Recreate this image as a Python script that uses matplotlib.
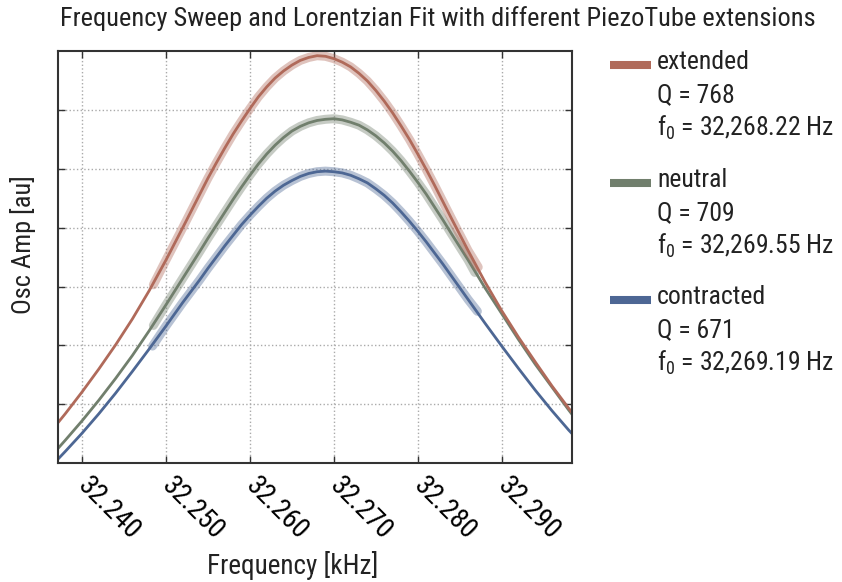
import os
import matplotlib
matplotlib.use("Agg")
import matplotlib.pyplot as plt
from matplotlib import font_manager as fm
from matplotlib.lines import Line2D

# look for a narrow / condensed sans face, the reference uses one
pick = None
for pat in ['LiberationSansNarrow-Regular', 'RobotoCondensed-Regular', 'Roboto_Condensed-Regular',
            'NotoSans-Condensed.', 'DejaVuSansCondensed.', 'OpenSans_Condensed-Regular',
            'OpenSans-CondensedRegular']:
    for f in fm.fontManager.ttflist:
        if pat in os.path.basename(f.fname):
            pick = f
            break
    if pick:
        break
if pick is None:
    for f in fm.fontManager.ttflist:
        if 'condensed' in str(f.stretch) and f.weight in (400, 'normal', 'regular') and f.style == 'normal':
            pick = f
            break
if pick is not None:
    plt.rcParams['font.family'] = [pick.name, 'DejaVu Sans']
    plt.rcParams['font.stretch'] = pick.stretch
else:
    plt.rcParams['font.family'] = ['Roboto', 'DejaVu Sans']
plt.rcParams['mathtext.default'] = 'regular'

# sweep frequencies [kHz] and values (arbitrary units)
freq = [32.236, 32.238, 32.240, 32.242, 32.244, 32.246, 32.248, 32.250, 32.252, 32.254,
        32.255, 32.256, 32.257, 32.258, 32.259, 32.260, 32.261, 32.262, 32.263, 32.264,
        32.265, 32.266, 32.267, 32.268, 32.269, 32.270, 32.271, 32.272, 32.273, 32.274,
        32.275, 32.276, 32.277, 32.278, 32.279, 32.280, 32.281, 32.282, 32.283,
        32.284, 32.286, 32.288, 32.290, 32.292, 32.294, 32.296, 32.298, 32.300]

extended = [0.49, 0.84, 1.21, 1.60, 2.01, 2.45, 2.93, 3.45, 4.00, 4.56,
            4.84, 5.10, 5.35, 5.59, 5.81, 6.02, 6.22, 6.39, 6.54, 6.66,
            6.76, 6.84, 6.89, 6.92, 6.91, 6.87, 6.81, 6.73, 6.62, 6.49,
            6.33, 6.15, 5.95, 5.73, 5.50, 5.25, 4.99, 4.72, 4.44,
            4.16, 3.61, 3.08, 2.59, 2.14, 1.72, 1.31, 0.93, 0.57]
neutral = [0.07, 0.39, 0.72, 1.07, 1.44, 1.83, 2.25, 2.69, 3.14, 3.59,
           3.82, 4.04, 4.26, 4.48, 4.69, 4.89, 5.08, 5.25, 5.40, 5.53,
           5.64, 5.72, 5.78, 5.82, 5.84, 5.85, 5.83, 5.79, 5.74, 5.66,
           5.56, 5.44, 5.30, 5.14, 4.96, 4.77, 4.57, 4.35, 4.13,
           3.90, 3.45, 2.98, 2.54, 2.10, 1.68, 1.29, 0.90, 0.53]
contracted = [-0.10, 0.20, 0.51, 0.84, 1.19, 1.56, 1.94, 2.33, 2.73, 3.11,
              3.31, 3.50, 3.69, 3.87, 4.05, 4.21, 4.36, 4.50, 4.62, 4.72,
              4.80, 4.87, 4.92, 4.95, 4.96, 4.95, 4.93, 4.89, 4.83, 4.76,
              4.66, 4.55, 4.42, 4.27, 4.11, 3.94, 3.76, 3.57, 3.38,
              3.18, 2.78, 2.38, 1.99, 1.61, 1.24, 0.89, 0.56, 0.26]

# measured sweep range (start/end freq and value) per series
sweep_start = [32.2485, 32.2485, 32.2484]
sweep_end = [32.2872, 32.2868, 32.2871]
sweep_start_val = [3.03, 2.34, 1.99]
sweep_end_val = [3.33, 3.24, 2.58]

names = ['extended', 'neutral', 'contracted']
q_values = [768, 709, 671]
f0_values = ['32,268.22', '32,269.55', '32,269.19']
colors = ['#b06a5a', '#717f6d', '#4d6794']
xticks = [32.240, 32.250, 32.260, 32.270, 32.280, 32.290]

fig = plt.figure(figsize=(8.42, 5.82), dpi=100)
ax = fig.add_axes([0.0685, 0.204, 0.6105, 0.7084])

series = [extended, neutral, contracted]
for i in [2, 1, 0]:
    vals = series[i]
    inside = [(f, v) for f, v in zip(freq, vals) if sweep_start[i] < f < sweep_end[i]]
    sf = [sweep_start[i]] + [p[0] for p in inside] + [sweep_end[i]]
    sv = [sweep_start_val[i]] + [p[1] for p in inside] + [sweep_end_val[i]]
    ax.plot(sf, sv, color=colors[i], lw=6.5, alpha=0.4, solid_capstyle='round')
    ax.plot(freq, vals, color=colors[i], lw=2)

ax.set_xlim(32.2371, 32.29834)
ax.set_ylim(0, 7)
ax.set_xticks(xticks)
ax.set_xticklabels(['%.3f' % x for x in xticks], rotation=-45, ha='left', va='center',
                   rotation_mode='anchor', fontsize=20)
ax.set_yticks([1, 2, 3, 4, 5, 6])
ax.set_yticklabels([])
ax.tick_params(direction='in', length=5, width=1, top=True, right=True, color='#333333', pad=13)
ax.grid(True, linestyle=':', color='#aaaaaa', lw=1)
for s in ax.spines.values():
    s.set_color('#333333')
    s.set_linewidth(1.5)

ax.set_xlabel('Frequency [kHz]', fontsize=19.5, color='#222222')
ax.xaxis.set_label_coords(0.458, -0.247)
ax.xaxis.label.set_va('center')
ax.set_ylabel('Osc Amp [au]', fontsize=19, color='#222222')
ax.yaxis.set_label_coords(-0.0675, 0.5295)
ax.yaxis.label.set_va('center')

fig.text(437.5 / 842, 1 - 19 / 582,
         'Frequency Sweep and Lorentzian Fit with different PiezoTube extensions',
         ha='center', va='center', fontsize=19, color='#222222')

# legend drawn by hand to the right of the axes
W, H = 842, 582
tops = [62, 180, 297]
for i in range(3):
    y0 = tops[i]
    fig.add_artist(Line2D([610 / W, 651 / W], [1 - (y0 + 3) / H, 1 - (y0 + 3) / H],
                          color=colors[i], lw=5.8, solid_capstyle='butt',
                          transform=fig.transFigure))
    lines = [names[i], 'Q = %d' % q_values[i], 'f$_0$ = %s Hz' % f0_values[i]]
    for j, t in enumerate(lines):
        fig.text(657 / W, 1 - (y0 + 33 * j) / H, t, ha='left', va='center',
                 fontsize=18.5, color='#222222')

fig.savefig('out.png', dpi=100)
